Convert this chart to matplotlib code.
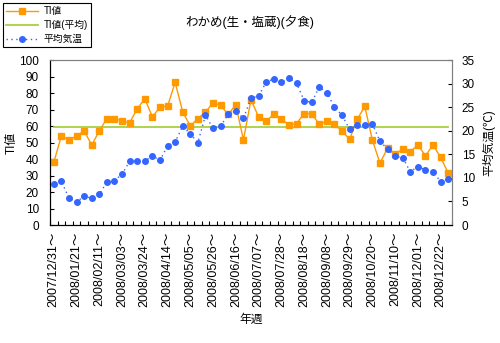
import matplotlib
matplotlib.use('Agg')
import matplotlib.pyplot as plt
import numpy as np
import pandas as pd

plt.rcParams['font.family'] = ['Liberation Sans', 'Noto Sans CJK JP']

# weekly series, 2007/12/31 .. 2008/12/29
weeks = pd.date_range('2007-12-31', periods=53, freq='7D')
week_labels = [d.strftime('%Y/%m/%d') + '～' for d in weeks]

ti_value = [38, 54, 51.5, 54, 57, 48.5, 57, 64.5, 64.5, 63,
            62, 70.5, 76.5, 65.5, 71.5, 72, 86.5, 68.5, 60, 64.5,
            68.5, 74, 72.5, 67, 73, 51.5, 76, 65.5, 63, 67,
            64.5, 60.5, 61.5, 67.5, 67.5, 61, 63, 61, 57, 52,
            64, 72, 51.5, 37.5, 46.5, 43, 46, 44.5, 48.5, 42,
            48.5, 41, 31.5]
avg_temp = [8.8, 9.3, 5.7, 4.9, 6.1, 5.7, 6.5, 9.1, 9.4, 10.8,
            13.5, 13.6, 13.5, 14.7, 13.7, 16.8, 17.6, 21.0, 19.3, 17.5,
            23.3, 20.5, 21.0, 23.5, 24.2, 22.6, 26.9, 27.4, 30.3, 31.0,
            30.3, 31.2, 30.1, 26.4, 26.0, 29.3, 28.1, 25.0, 23.3, 20.3,
            21.2, 21.2, 21.4, 17.8, 16.1, 14.6, 14.3, 11.3, 12.4, 11.7,
            11.3, 9.2, 9.8]

x = np.arange(len(weeks))
ti_mean = np.mean(ti_value)

fig = plt.figure(figsize=(5.0, 3.43), dpi=100)
ax = fig.add_axes([0.1, 0.344, 0.804, 0.481])
ax2 = ax.twinx()

l1, = ax.plot(x, ti_value, color='#FF9900', lw=1.0, marker='s', ms=4.5,
              markeredgecolor='#FF9900', label='TI値', zorder=3)
l2, = ax.plot([x[0], x[-1]], [ti_mean, ti_mean], color='#A8D040', lw=1.3,
              label='TI値(平均)', zorder=2)
l3, = ax2.plot(x, avg_temp, color='#3366FF', lw=1.0, ls=(0, (1, 2.5)),
               marker='o', ms=4, markeredgecolor='#3366FF', label='平均気温')

ax.set_xlim(-0.5, len(x) - 0.5)
ax.set_ylim(0, 100)
ax2.set_ylim(0, 35)
ax.set_yticks(np.arange(0, 101, 10))
ax2.set_yticks(np.arange(0, 36, 5))

ax.set_xticks(x[::3])
ax.set_xticklabels(week_labels[::3], rotation=90, fontsize=9)
ax.set_xticks(np.arange(-0.5, len(x), 1), minor=True)
ax.tick_params(axis='x', which='major', length=0, pad=5)
ax.tick_params(axis='x', which='minor', direction='in', length=3, width=0.8)
ax.tick_params(axis='y', direction='in', length=3, labelsize=8.5, pad=8)
ax2.tick_params(axis='y', direction='in', length=3, labelsize=8.5, pad=7)

for a in (ax, ax2):
    a.spines['top'].set_color('#808080')
    a.spines['right'].set_color('#808080')
    a.spines['left'].set_color('black')
    a.spines['bottom'].set_color('black')

ax.set_ylabel('TI値', fontsize=8.5)
ax.yaxis.set_label_coords(-0.08, 0.5)
ax2.set_ylabel('平均気温(℃)', fontsize=8.5, labelpad=5)
ax.set_xlabel('年週', fontsize=8.5, labelpad=5)
fig.text(0.5, 0.935, 'わかめ(生・塩蔵)(夕食)', ha='center', va='center', fontsize=9)

leg = fig.legend(handles=[l1, l2, l3], loc='upper left',
                 bbox_to_anchor=(0.006, 0.992), fontsize=7,
                 frameon=True, fancybox=False, edgecolor='black',
                 framealpha=1, borderpad=0.35, handlelength=3.3,
                 labelspacing=0.4, handletextpad=0.5, borderaxespad=0)
leg.get_frame().set_linewidth(0.8)

fig.savefig('out.png', dpi=100)
